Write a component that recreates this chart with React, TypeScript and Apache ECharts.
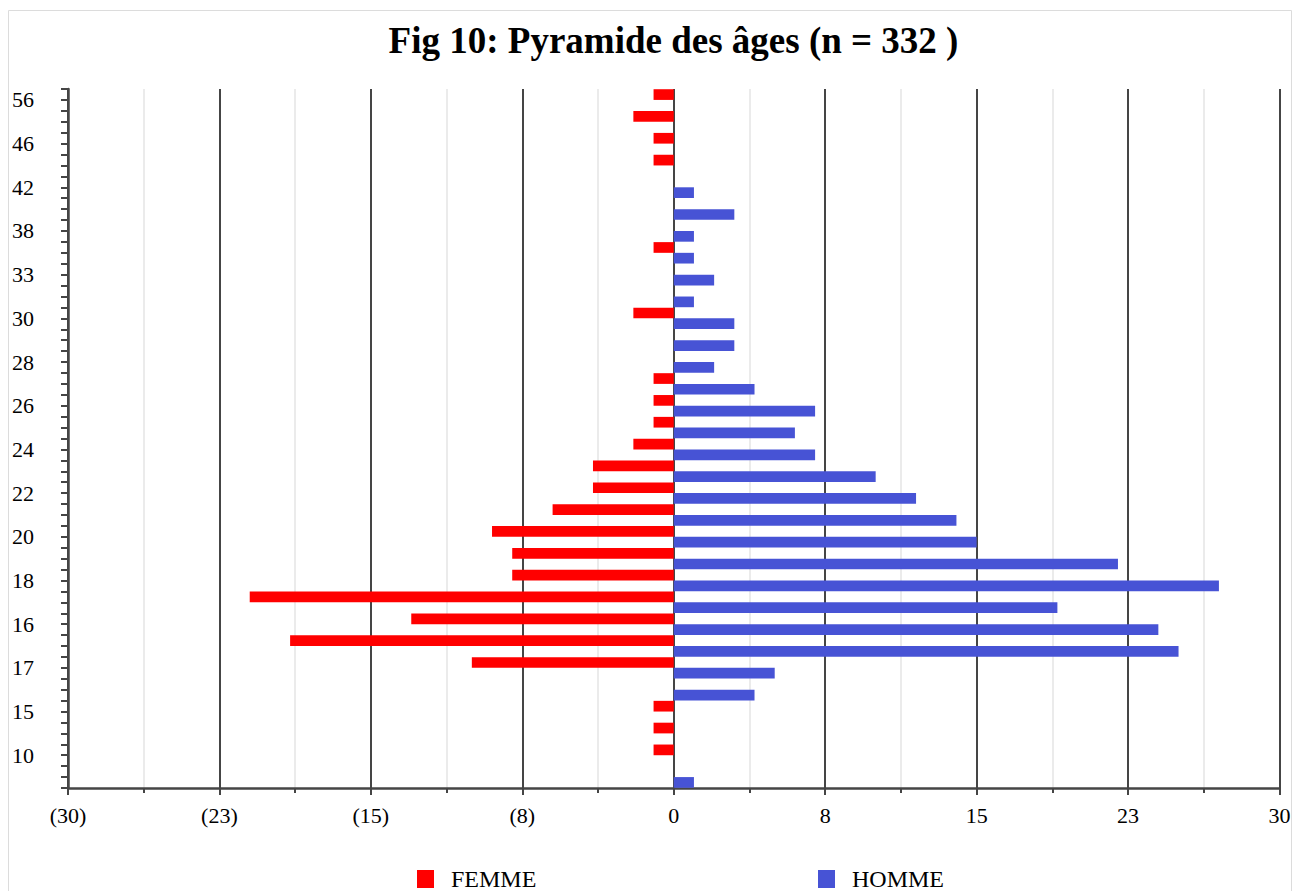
import React, { useEffect, useRef } from 'react';
import * as echarts from 'echarts';

// Age-group labels, top to bottom (unlabelled rows left blank, as in the figure)
const ageLabels = [
  '56', '', '46', '', '42', '', '38', '', '33', '', '30', '', '28', '', '26', '',
  '24', '', '22', '', '20', '', '18', '', '16', '', '17', '', '15', '', '10', '',
];

// Counts per row, top to bottom
const femme = [
  1, 2, 1, 1, 0, 0, 0, 1, 0, 0, 2, 0, 0, 1, 1, 1,
  2, 4, 4, 6, 9, 8, 8, 21, 13, 19, 10, 0, 1, 1, 1, 0,
];
const homme = [
  0, 0, 0, 0, 1, 3, 1, 1, 2, 1, 3, 3, 2, 4, 7, 6,
  7, 10, 12, 14, 15, 22, 27, 19, 24, 25, 5, 4, 0, 0, 0, 1,
];

const seriesNames = ['FEMME', 'HOMME'];
const titleText = 'Fig 10: Pyramide des âges (n = 332 )';

export default function App() {
  const ref = useRef<HTMLDivElement>(null);

  useEffect(() => {
    if (!ref.current) return;
    const chart = echarts.init(ref.current, null, { renderer: 'svg' });
    const serif = '"Liberation Serif", "Times New Roman", serif';
    const dark = '#454545';

    const fmt = (v: number) => {
      if (v === 0) return '0';
      const r = Math.round(Math.abs(v));
      return v < 0 ? `(${r})` : `${r}`;
    };

    chart.setOption({
      animation: false,
      backgroundColor: '#ffffff',
      textStyle: { fontFamily: serif },
      graphic: [
        {
          type: 'rect',
          silent: true,
          z: -10,
          shape: { x: 8.5, y: 10.5, width: 1283, height: 900 },
          style: { fill: 'none', stroke: '#dcdcdc', lineWidth: 1 },
        },
        {
          type: 'text',
          x: 673.5,
          y: 40,
          style: {
            text: titleText,
            fontSize: 37,
            fontWeight: 'bold',
            fontFamily: serif,
            fill: '#000',
            align: 'center',
            verticalAlign: 'middle',
          },
        },
      ],
      legend: [
        {
          data: [seriesNames[0]],
          left: 417,
          top: 867,
          padding: 0,
          icon: 'rect',
          itemWidth: 17,
          itemHeight: 18,
          textStyle: { fontSize: 24, fontFamily: serif, color: '#000', padding: [0, 0, 0, 12] },
        },
        {
          data: [seriesNames[1]],
          left: 818,
          top: 867,
          padding: 0,
          icon: 'rect',
          itemWidth: 17,
          itemHeight: 18,
          textStyle: { fontSize: 24, fontFamily: serif, color: '#000', padding: [0, 0, 0, 12] },
        },
      ],
      grid: {
        left: 68,
        right: 13.5,
        top: 89,
        bottom: 103,
        containLabel: false,
        outerBoundsMode: 'none',
      },
      xAxis: {
        type: 'value',
        min: -30,
        max: 30,
        interval: 7.5,
        axisLine: { show: true, onZero: false, lineStyle: { color: dark, width: 2.5 } },
        axisTick: { show: true, length: 7, lineStyle: { color: dark, width: 2 } },
        minorTick: { show: true, splitNumber: 2, length: 5, lineStyle: { color: dark, width: 2 } },
        splitLine: { show: true, lineStyle: { color: dark, width: 2 } },
        minorSplitLine: { show: true, lineStyle: { color: '#ebebeb', width: 2 } },
        axisLabel: { formatter: fmt, fontSize: 22, color: '#000', margin: 16, fontFamily: serif },
      },
      yAxis: [
        {
          type: 'category',
          data: ageLabels,
          inverse: true,
          position: 'left',
          axisLine: { show: true, onZero: false, lineStyle: { color: dark, width: 2.5 } },
          axisTick: { show: false },
          splitLine: { show: false },
          axisLabel: { interval: 1, margin: 34, fontSize: 22, color: '#000', fontFamily: serif },
        },
        {
          type: 'value',
          min: 0,
          max: 64,
          interval: 1,
          position: 'left',
          axisLine: { show: false, onZero: false },
          axisTick: { show: true, length: 7, lineStyle: { color: dark, width: 2 } },
          axisLabel: { show: false },
          splitLine: { show: false },
        },
      ],
      series: [
        {
          name: seriesNames[0],
          type: 'bar',
          yAxisIndex: 0,
          data: femme.map((v) => (v ? -v : '-')),
          itemStyle: { color: '#ff0000' },
          barGap: '0%',
          barCategoryGap: '2%',
        },
        {
          name: seriesNames[1],
          type: 'bar',
          yAxisIndex: 0,
          data: homme.map((v) => (v ? v : '-')),
          itemStyle: { color: '#4753d5' },
          barGap: '0%',
          barCategoryGap: '2%',
        },
      ],
    });

    return () => chart.dispose();
  }, []);

  return (
    <div
      ref={ref}
      style={{ position: 'fixed', left: 0, top: 0, width: 1293, height: 891 }}
    />
  );
}
